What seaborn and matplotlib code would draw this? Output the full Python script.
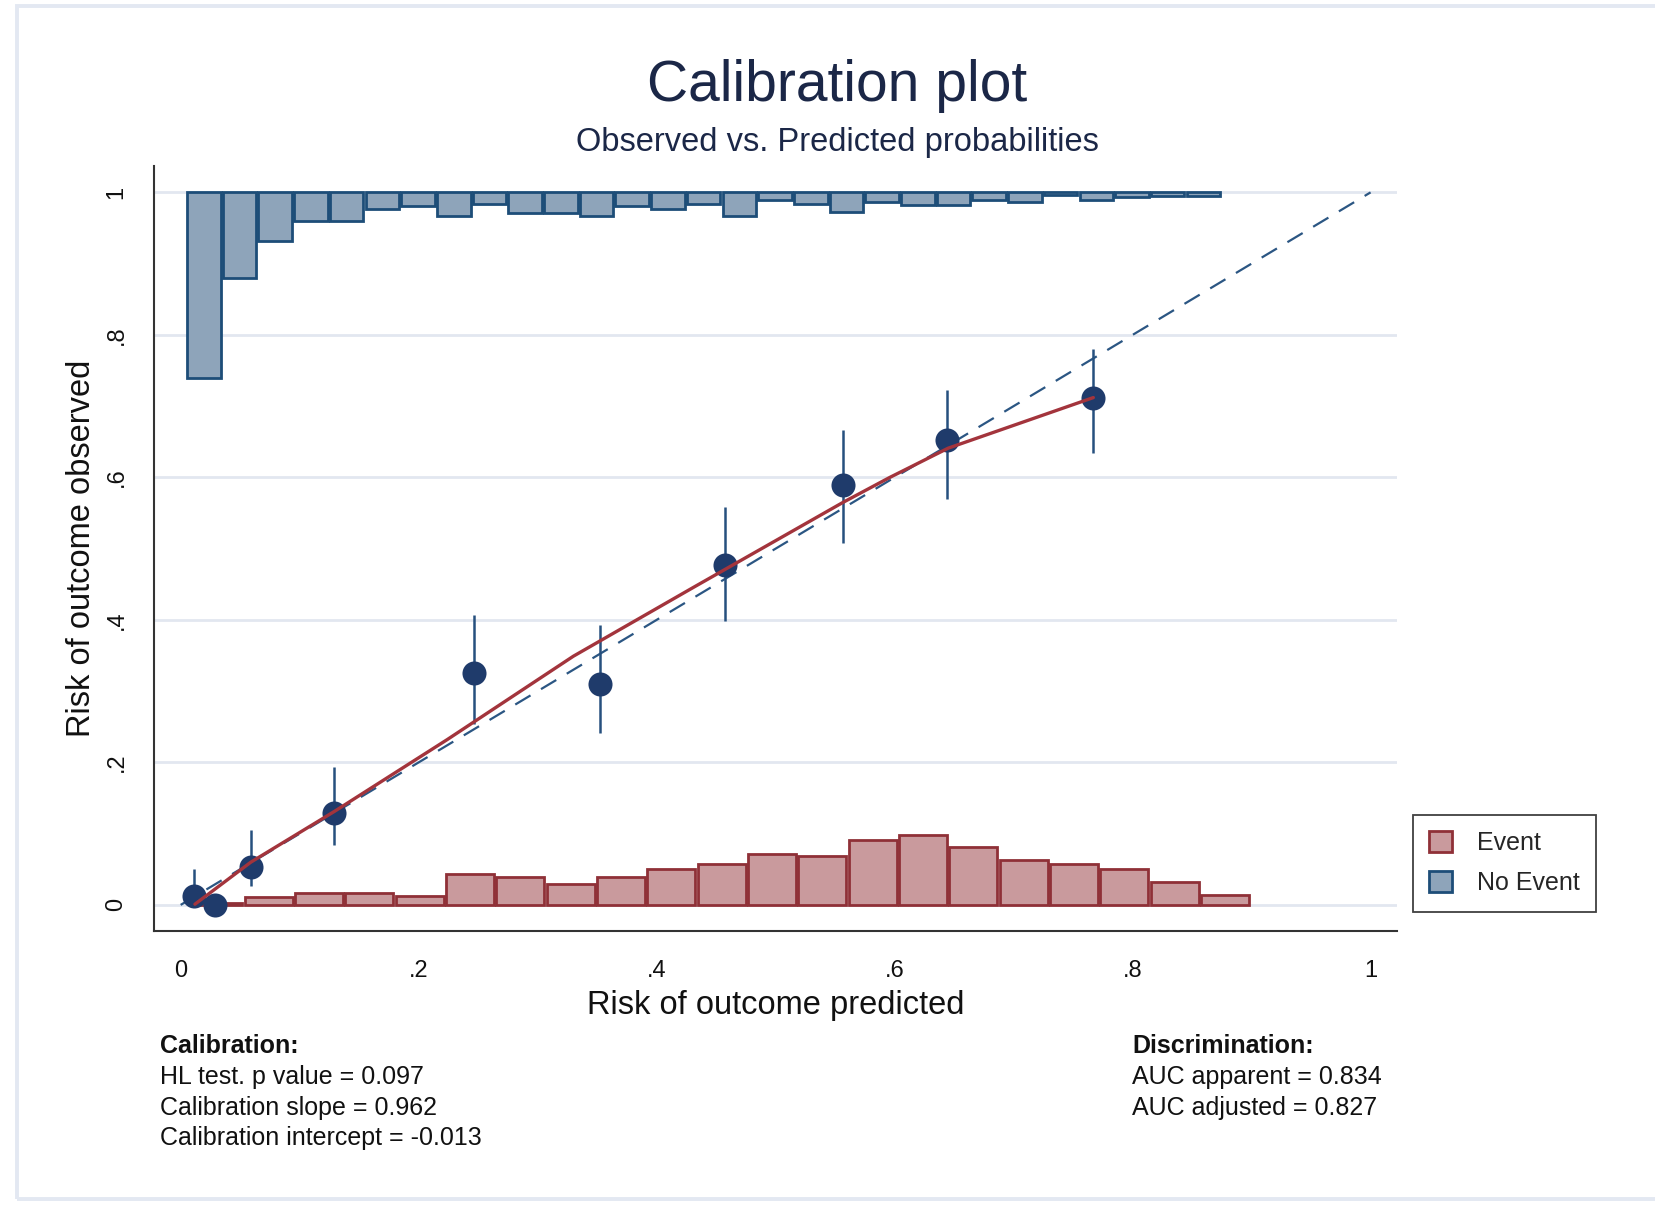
import numpy as np
import pandas as pd
import matplotlib
matplotlib.use("Agg")
import matplotlib.pyplot as plt
from matplotlib.patches import Patch, Rectangle
import seaborn as sns

# ---------------- data ----------------
# observed vs predicted (grouped) with 95% CI
pred_grp = [0.0113, 0.0289, 0.0592, 0.129, 0.2466, 0.352, 0.4575, 0.5564, 0.6443, 0.767]
obs_grp = [0.013, 0.000, 0.053, 0.129, 0.325, 0.310, 0.477, 0.590, 0.652, 0.712]
ci_low = [0.000, 0.000, 0.027, 0.084, 0.254, 0.241, 0.398, 0.508, 0.570, 0.634]
ci_high = [0.051, 0.000, 0.105, 0.193, 0.407, 0.393, 0.558, 0.666, 0.723, 0.780]

# lowess smoother
lowess_x = [0.012, 0.059, 0.129, 0.224, 0.330, 0.431, 0.5564, 0.596, 0.645, 0.767]
lowess_y = [0.001, 0.060, 0.131, 0.232, 0.349, 0.4457, 0.5647, 0.600, 0.641, 0.712]

# histogram of predicted risk, no-event group (hanging from 1)
noevent_start = 0.0045
noevent_binw = 0.0300
noevent_depth = [0.261, 0.120, 0.068, 0.040, 0.040, 0.024, 0.019, 0.033, 0.017, 0.029,
                 0.029, 0.033, 0.019, 0.023, 0.016, 0.033, 0.010, 0.016, 0.027, 0.013,
                 0.018, 0.018, 0.011, 0.013, 0.004, 0.010, 0.007, 0.005, 0.005]

# histogram of predicted risk, event group (rising from 0)
event_start = 0.0105
event_binw = 0.0423
event_height = [0.003, 0.011, 0.017, 0.017, 0.012, 0.044, 0.039, 0.029, 0.039, 0.050,
                0.058, 0.071, 0.068, 0.091, 0.098, 0.0815, 0.063, 0.057, 0.050, 0.032,
                0.014]

ticks = [0, 0.2, 0.4, 0.6, 0.8, 1.0]
tick_labels = ["0", ".2", ".4", ".6", ".8", "1"]

title = "Calibration plot"
subtitle = "Observed vs. Predicted probabilities"
xlabel = "Risk of outcome predicted"
ylabel = "Risk of outcome observed"
calib_lines = ["HL test. p value = 0.097", "Calibration slope = 0.962",
               "Calibration intercept = -0.013"]
discr_lines = ["AUC apparent = 0.834", "AUC adjusted = 0.827"]

# ---------------- style ----------------
sns.set_style("white")
plt.rcParams["font.family"] = ["Liberation Sans", "DejaVu Sans"]

NAVY = "#1f3b6b"
BAR_BLUE_FACE = "#8ea4ba"
BAR_BLUE_EDGE = "#1d4d78"
BAR_RED_FACE = "#c99a9d"
BAR_RED_EDGE = "#8f3037"
RED_LINE = "#a3343c"
DASH = "#2b5683"
GRID = "#e2e7f0"
TXT_DARK = "#1b2747"

fig = plt.figure(figsize=(16.56, 12.18), dpi=100)
fig.patch.set_facecolor("white")

# outer frame
fig.patches.append(Rectangle((0.0105, 0.0158), 1.2, 0.9795, transform=fig.transFigure,
                             fill=False, edgecolor="#e3e8f2", lw=2.8, zorder=0))

ax = fig.add_axes([0.0930, 0.2360, 0.7506, 0.6277])
ax.set_facecolor("white")

# gridlines
for t in ticks:
    ax.axhline(t, color=GRID, lw=2.0, zorder=0)

# histograms
ne_left = noevent_start + noevent_binw * np.arange(len(noevent_depth))
ax.bar(ne_left + noevent_binw * 0.03, -np.array(noevent_depth), width=noevent_binw * 0.94,
       bottom=1.0, align="edge", color=BAR_BLUE_FACE, edgecolor=BAR_BLUE_EDGE,
       linewidth=2.0, zorder=2)
ev_left = event_start + event_binw * np.arange(len(event_height))
ax.bar(ev_left + event_binw * 0.025, event_height, width=event_binw * 0.95,
       bottom=0.0, align="edge", color=BAR_RED_FACE, edgecolor=BAR_RED_EDGE,
       linewidth=2.0, zorder=2)

# reference diagonal
diag = pd.DataFrame({"x": [0.0, 1.0], "y": [0.0, 1.0]})
sns.lineplot(data=diag, x="x", y="y", ax=ax, color=DASH, lw=1.6,
             linestyle=(0, (8, 5.5)), zorder=3, legend=False)

# CI bars and points
ax.vlines(pred_grp, ci_low, ci_high, color="#26507e", lw=1.8, zorder=4)
pts = pd.DataFrame({"pred": pred_grp, "obs": obs_grp})
sns.scatterplot(data=pts, x="pred", y="obs", ax=ax, s=300, color=NAVY,
                edgecolor=NAVY, linewidth=0, zorder=5, legend=False)

# lowess line
lw_df = pd.DataFrame({"x": lowess_x, "y": lowess_y})
sns.lineplot(data=lw_df, x="x", y="y", ax=ax, color=RED_LINE, lw=2.4,
             zorder=6, legend=False, sort=False)

ax.set_xlim(-0.0224, 1.0222)
ax.set_ylim(-0.036, 1.037)
ax.set_xticks(ticks)
ax.set_xticklabels(tick_labels)
ax.set_yticks(ticks)
ax.set_yticklabels(tick_labels, rotation=90, va="center")

for s in ["top", "right"]:
    ax.spines[s].set_visible(False)
for s in ["left", "bottom"]:
    ax.spines[s].set_color("#333333")
    ax.spines[s].set_linewidth(1.5)

ax.tick_params(axis="both", which="major", direction="out", length=11, width=1.5,
               color="#333333", labelsize=17, labelcolor="#111111", pad=10)
ax.tick_params(axis="y", pad=8)

ax.set_xlabel(xlabel, fontsize=23.5, color="#111111", labelpad=6)
ax.set_ylabel(ylabel, fontsize=23.5, color="#111111", labelpad=6)

# titles
fig.text(0.5057, 0.9167, title, ha="center", va="baseline", fontsize=41, color=TXT_DARK)
fig.text(0.5055, 0.876, subtitle, ha="center", va="baseline", fontsize=23.5, color=TXT_DARK)

# legend
handles = [Patch(facecolor=BAR_RED_FACE, edgecolor=BAR_RED_EDGE, linewidth=2.0, label="Event"),
           Patch(facecolor=BAR_BLUE_FACE, edgecolor=BAR_BLUE_EDGE, linewidth=2.0, label="No Event")]
leg = fig.legend(handles=handles, loc="upper left", bbox_to_anchor=(0.8533, 0.3309),
                 borderaxespad=0, fontsize=18, frameon=True, fancybox=False,
                 edgecolor="#111111", handlelength=0.9, handleheight=0.9,
                 handletextpad=1.0, labelspacing=0.65, borderpad=0.65)
leg.get_frame().set_linewidth(1.3)

# annotations
fig.text(0.0969, 0.1416, "Calibration:", ha="left", va="center", fontsize=18,
         fontweight="bold", color="#111111")
ys = [0.1156, 0.0904, 0.0653]
for y, line in zip(ys, calib_lines):
    fig.text(0.0969, y, line, ha="left", va="center", fontsize=18, color="#111111")

fig.text(0.6836, 0.1416, "Discrimination:", ha="left", va="center", fontsize=18,
         fontweight="bold", color="#111111")
for y, line in zip(ys, discr_lines):
    fig.text(0.6836, y, line, ha="left", va="center", fontsize=18, color="#111111")

fig.savefig("out.png", dpi=100)
